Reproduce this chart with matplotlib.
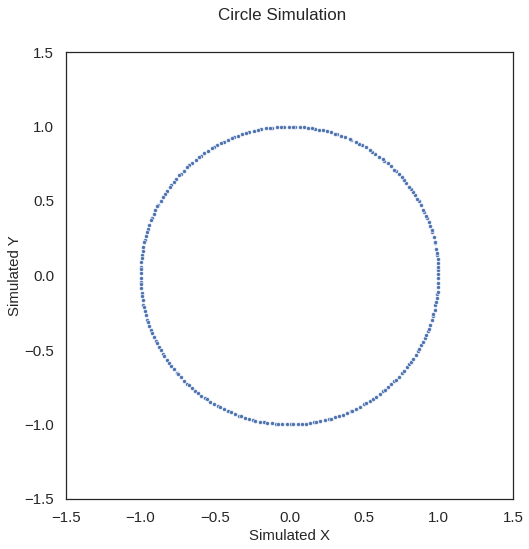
import numpy as np
import matplotlib
matplotlib.use("Agg")
import matplotlib.pyplot as plt
import seaborn as sns

# angles (degrees) of the simulated points, read off the ring
angles = [0.4, 2.1, 3.3, 5.0, 6.2, 7.9, 8.6, 10.4, 12.5, 13.1, 14.8, 16.9, 17.6, 19.2,
          21.0, 22.7, 23.5, 25.3, 26.1, 28.4, 29.8, 31.0, 32.6, 34.1, 35.7, 36.4, 38.3,
          40.0, 41.2, 42.9, 44.6, 45.3, 47.1, 48.8, 50.5, 51.3, 53.0, 54.9, 56.2, 57.4,
          59.3, 60.8, 62.0, 63.7, 65.5, 66.2, 68.0, 69.6, 71.3, 72.1, 73.9, 75.6, 77.0,
          78.4, 80.1, 81.5, 82.8, 84.6, 86.0, 87.7, 88.5, 90.3, 92.0, 93.4, 94.9, 96.7,
          97.5, 99.2, 101.0, 102.3, 103.9, 105.6, 106.8, 108.4, 110.1, 111.7, 112.5,
          114.3, 116.0, 117.2, 118.9, 120.6, 121.4, 123.1, 124.8, 126.5, 127.2, 129.0,
          130.7, 132.3, 133.5, 135.2, 136.9, 137.6, 139.4, 141.1, 142.8, 143.5, 145.3,
          147.0, 148.2, 149.9, 151.6, 152.4, 154.1, 155.8, 157.5, 158.3, 160.0, 161.7,
          163.0, 164.6, 166.3, 167.1, 168.8, 170.5, 171.9, 173.2, 174.9, 176.6, 177.4,
          179.1, 180.8, 182.5, 183.3, 185.0, 186.7, 188.0, 189.6, 191.3, 192.1, 193.8,
          195.5, 197.2, 198.0, 199.7, 201.4, 202.6, 204.3, 206.0, 206.8, 208.5, 210.2,
          211.9, 212.7, 214.4, 216.1, 217.4, 219.0, 220.7, 221.5, 223.2, 224.9, 226.6,
          227.4, 229.1, 230.8, 232.1, 233.7, 235.4, 236.2, 237.9, 239.6, 241.3, 242.1,
          243.8, 245.5, 246.8, 248.4, 250.1, 250.9, 252.6, 254.3, 256.0, 256.8, 258.5,
          260.2, 261.5, 263.1, 264.8, 265.6, 267.3, 269.0, 270.7, 271.5, 273.2, 274.9,
          276.2, 277.8, 279.5, 280.3, 282.0, 283.7, 285.4, 286.2, 287.9, 289.6, 290.9,
          292.5, 294.2, 295.0, 296.7, 298.4, 300.1, 300.9, 302.6, 304.3, 305.6, 307.2,
          308.9, 309.7, 311.4, 313.1, 314.8, 315.6, 317.3, 319.0, 320.3, 321.9, 323.6,
          324.4, 326.1, 327.8, 329.5, 330.3, 332.0, 333.7, 335.0, 336.6, 338.3, 339.1,
          340.8, 342.5, 344.2, 345.0, 346.7, 348.4, 349.7, 351.3, 353.0, 353.8, 355.5,
          357.2, 358.9]
ticks = [-1.5, -1.0, -0.5, 0.0, 0.5, 1.0, 1.5]

theta = np.deg2rad(angles)
sim_x = np.cos(theta)
sim_y = np.sin(theta)

sns.set_theme(style="white")
plt.rcParams['font.family'] = ['Liberation Sans', 'DejaVu Sans']

fig = plt.figure(figsize=(529 / 72, 549 / 72), dpi=72)
ax = fig.add_axes([66 / 529, 50 / 549, 447 / 529, 447 / 549])

sns.scatterplot(x=sim_x, y=sim_y, ax=ax, s=16, color="#4C72B0",
                edgecolor="white", linewidth=0.6)

ax.set_xlim(-1.5, 1.5)
ax.set_ylim(-1.5, 1.5)
ax.set_xticks(ticks)
ax.set_yticks(ticks)
ax.tick_params(labelsize=15, pad=6)
for sp in ax.spines.values():
    sp.set_color("#262626")
    sp.set_linewidth(1.25)
ax.set_xlabel("Simulated X", fontsize=15, labelpad=4)
ax.set_ylabel("Simulated Y", fontsize=15, labelpad=2)
fig.text(282 / 529, 1 - 15 / 549, "Circle Simulation", fontsize=17,
         ha="center", va="center")

fig.savefig("out.png", dpi=72)
